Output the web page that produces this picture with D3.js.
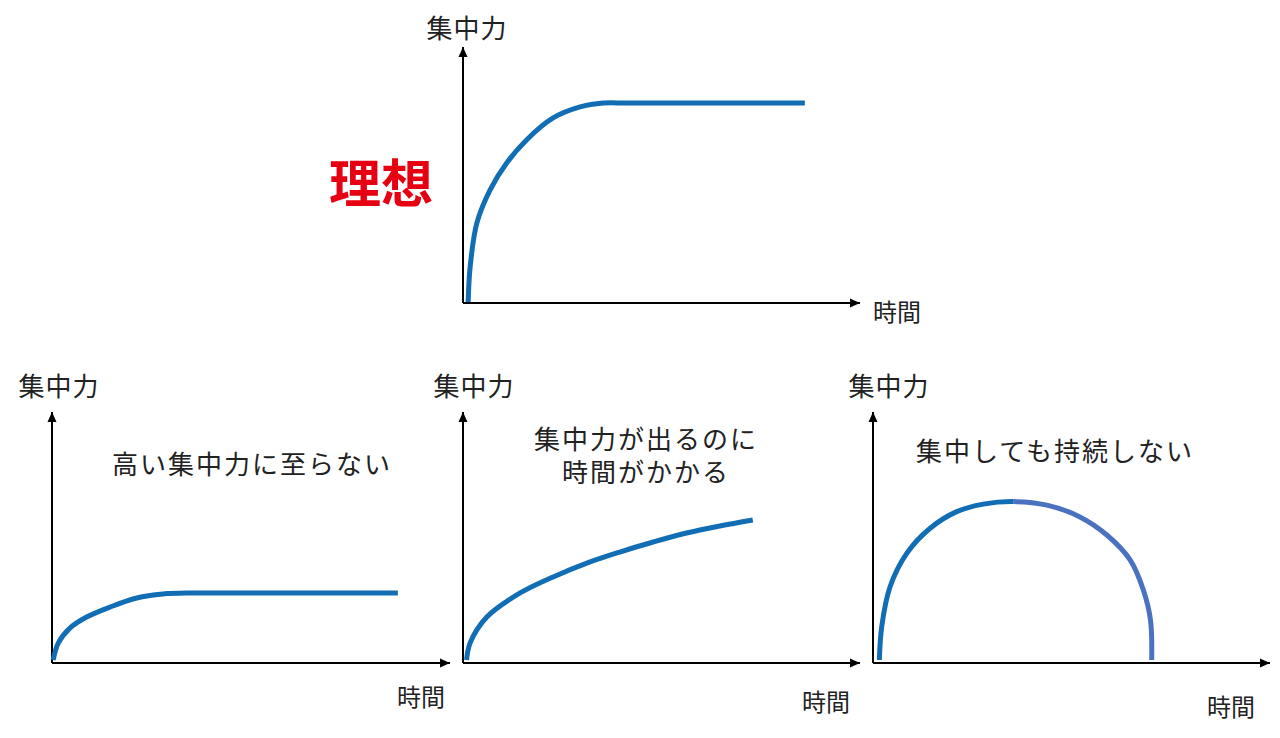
<!DOCTYPE html>
<html lang="ja">
<head>
<meta charset="utf-8">
<script src="https://cdn.jsdelivr.net/npm/d3@7"></script>
<style>
  html, body { margin: 0; padding: 0; background: #fff; }
  svg { display: block; }
  text { font-family: "Noto Sans CJK JP", "Noto Sans", sans-serif; fill: #222; }
</style>
</head>
<body>
<div id="grafico"></div>
<script>
// 集中力の曲線データ（時間, 集中力）: 0〜100 の相対値
const idealTime = [1.3, 1.8, 3.5, 6.8, 11.0, 16.0, 22.7, 29.5, 35.3, 42.0, 86.1];
const idealLevel = [0.4, 14.1, 31.3, 44.1, 54.7, 63.7, 72.3, 76.6, 78.1, 78.1, 78.1];

const lowTime = [0.3, 1.6, 4.5, 8.7, 14.6, 21.3, 27.9, 35.1, 42.0, 86.9];
const lowLevel = [1.2, 8.0, 13.9, 18.3, 22.3, 25.9, 27.5, 27.9, 27.9, 27.9];

const slowTime = [0.9, 1.8, 6.0, 14.4, 22.7, 31.2, 39.5, 47.9, 56.3, 64.7, 73.0];
const slowLevel = [1.2, 8.0, 18.3, 27.9, 34.3, 39.8, 44.2, 48.2, 51.8, 54.6, 57.0];

const shortTime = [1.6, 2.2, 4.3, 8.5, 14.4, 21.1, 27.8, 35.3, 43.8, 52.0, 58.9, 64.8, 68.1, 69.9, 70.2];
const shortLevel = [1.2, 14.5, 30.4, 43.7, 53.7, 60.3, 63.3, 64.3, 62.9, 58.3, 51.0, 41.0, 29.1, 17.1, 1.2];

// ラベル
const yLabel = '集中力';
const xLabel = '時間';
const idealTitle = '理想';
const lowNote = ['高い集中力に至らない'];
const slowNote = ['集中力が出るのに', '時間がかかる'];
const shortNote = ['集中しても持続しない'];

const largura = 1280;
const altura = 738;
const azul = '#116db4';
const azulClaro = '#4a72c0';

const svg = d3
  .select('#grafico')
  .append('svg')
  .attr('width', largura)
  .attr('height', altura);

// Seta
svg
  .append('defs')
  .append('marker')
  .attr('id', 'seta')
  .attr('viewBox', '0 -5 10 10')
  .attr('refX', 10)
  .attr('refY', 0)
  .attr('markerUnits', 'userSpaceOnUse')
  .attr('markerWidth', 11)
  .attr('markerHeight', 10)
  .attr('orient', 'auto')
  .append('path')
  .attr('d', 'M0,-4.5L10,0L0,4.5Z')
  .attr('fill', '#000');

const paineis = [
  {
    ox: 463, oy: 303, w: 397, h: 256,
    t: idealTime, v: idealLevel, nota: [], notaY: 0, notaX: 0,
    yl: [467, 26], xl: [897, 310]
  },
  {
    ox: 52, oy: 663, w: 398, h: 251,
    t: lowTime, v: lowLevel, nota: lowNote, notaX: 252, notaY: 462,
    yl: [59, 384], xl: [421, 695]
  },
  {
    ox: 463, oy: 663, w: 397, h: 251,
    t: slowTime, v: slowLevel, nota: slowNote, notaX: 646, notaY: 437,
    yl: [474, 384], xl: [826, 700]
  },
  {
    ox: 873, oy: 663, w: 397, h: 251,
    t: shortTime, v: shortLevel, nota: shortNote, notaX: 1055, notaY: 449,
    yl: [889, 384], xl: [1231, 705], meia: true
  }
];

paineis.forEach((p, i) => {
  const x = d3.scaleLinear().domain([0, 100]).range([p.ox, p.ox + p.w]);
  const y = d3.scaleLinear().domain([0, 100]).range([p.oy, p.oy - p.h]);

  // Eixos
  const gx = svg
    .append('g')
    .attr('transform', `translate(0,${p.oy})`)
    .call(d3.axisBottom(x).ticks(0).tickSizeOuter(0));
  gx.select('.domain')
    .attr('d', `M${x(0)},0H${x(100)}`)
    .attr('stroke', '#000')
    .attr('stroke-width', 2)
    .attr('marker-end', 'url(#seta)');

  const gy = svg
    .append('g')
    .attr('transform', `translate(${p.ox},0)`)
    .call(d3.axisLeft(y).ticks(0).tickSizeOuter(0));
  gy.select('.domain')
    .attr('d', `M0,${y(0)}V${y(100)}`)
    .attr('stroke', '#000')
    .attr('stroke-width', 2)
    .attr('marker-end', 'url(#seta)');

  const pontos = p.t.map((t, k) => ({ t, v: p.v[k] }));
  const linha = d3
    .line()
    .x((d) => x(d.t))
    .y((d) => y(d.v))
    .curve(d3.curveCatmullRom.alpha(0.5));

  if (p.meia) {
    // pico: metade esquerda azul, direita azul claro
    const pico = pontos.reduce((a, b) => (b.v > a.v ? b : a));
    const defs = svg.select('defs');
    defs.append('clipPath').attr('id', 'esq')
      .append('rect').attr('x', 0).attr('y', 0)
      .attr('width', x(pico.t)).attr('height', altura);
    defs.append('clipPath').attr('id', 'dir')
      .append('rect').attr('x', x(pico.t)).attr('y', 0)
      .attr('width', largura - x(pico.t)).attr('height', altura);
    svg.append('path').datum(pontos).attr('d', linha)
      .attr('fill', 'none').attr('stroke', azul).attr('stroke-width', 5)
      .attr('clip-path', 'url(#esq)');
    svg.append('path').datum(pontos).attr('d', linha)
      .attr('fill', 'none').attr('stroke', azulClaro).attr('stroke-width', 5)
      .attr('clip-path', 'url(#dir)');
  } else {
    svg.append('path').datum(pontos).attr('d', linha)
      .attr('fill', 'none').attr('stroke', azul).attr('stroke-width', 5);
  }

  // Rótulos dos eixos
  svg.append('text')
    .attr('x', p.yl[0]).attr('y', p.yl[1])
    .attr('text-anchor', 'middle').attr('dominant-baseline', 'central')
    .attr('font-size', 26).attr('letter-spacing', 1)
    .text(yLabel);
  svg.append('text')
    .attr('x', p.xl[0]).attr('y', p.xl[1])
    .attr('text-anchor', 'middle').attr('dominant-baseline', 'central')
    .attr('font-size', 24)
    .text(xLabel);

  // Notas (uma linha ou duas, num só texto)
  if (p.nota.length) {
    const nota = svg.append('text')
      .attr('x', p.notaX).attr('y', p.notaY)
      .attr('text-anchor', 'middle').attr('dominant-baseline', 'central')
      .attr('font-size', 26).attr('letter-spacing', 2);
    p.nota.forEach((linhaTxt, k) => {
      nota.append('tspan')
        .attr('x', p.notaX)
        .attr('dy', k === 0 ? 0 : 33)
        .text(linhaTxt);
    });
  }
});

// 理想
svg.append('text')
  .attr('x', 381).attr('y', 180)
  .attr('text-anchor', 'middle').attr('dominant-baseline', 'central')
  .attr('font-size', 52).attr('font-weight', 'bold')
  .style('fill', '#e60012')
  .text(idealTitle);
</script>
</body>
</html>
